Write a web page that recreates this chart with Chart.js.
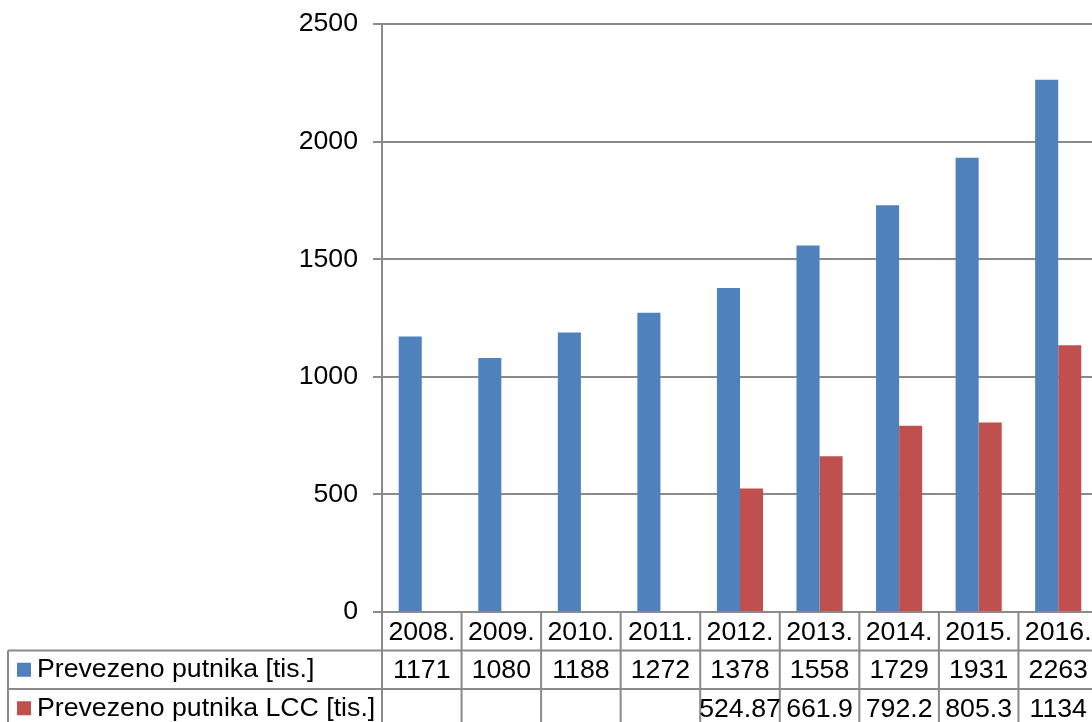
<!DOCTYPE html>
<html>
<head>
<meta charset="utf-8">
<script src="https://cdn.jsdelivr.net/npm/chart.js@4/dist/chart.umd.min.js"></script>
<style>
html, body { margin: 0; padding: 0; background: #fff; overflow: hidden; }
#wrap { position: absolute; left: 0; top: 0; width: 1100px; height: 740px; }
</style>
</head>
<body>
<div id="wrap"><canvas id="chart"></canvas></div>
<script>
// data
const years = ["2008.", "2009.", "2010.", "2011.", "2012.", "2013.", "2014.", "2015.", "2016."];
const passengers = [1171, 1080, 1188, 1272, 1378, 1558, 1729, 1931, 2263];
const passengersLcc = [null, null, null, null, 524.87, 661.9, 792.2, 805.3, 1134];
const yTicks = [0, 500, 1000, 1500, 2000, 2500];
const seriesNames = ["Prevezeno putnika [tis.]", "Prevezeno putnika LCC [tis.]"];
const seriesColors = ["#4F81BD", "#C0504D"];

const FONT = "Liberation Sans, Arial, sans-serif";
const FSIZE = 26.7;
const LINE = "#8a8a8a";

// Excel style data table under the plot
const dataTable = {
  id: 'dataTable',
  afterDraw(chart) {
    const ctx = chart.ctx;
    const xs = chart.scales.x;
    const area = chart.chartArea;
    const n = years.length;
    const w = (area.right - area.left) / n;
    const top = area.bottom;
    const rowH = 38.5;
    const rows = [top, top + rowH, top + 2 * rowH, top + 3 * rowH];
    const left = 8;
    const right = area.left + n * w;

    ctx.save();
    ctx.strokeStyle = LINE;
    ctx.lineWidth = 2;
    ctx.beginPath();
    // horizontal lines
    ctx.moveTo(left, rows[1]); ctx.lineTo(right, rows[1]);
    ctx.moveTo(left, rows[2]); ctx.lineTo(right, rows[2]);
    ctx.moveTo(left, rows[3]); ctx.lineTo(right, rows[3]);
    // outer left of legend column
    ctx.moveTo(left, rows[1]); ctx.lineTo(left, rows[3]);
    // category cell borders
    for (let i = 0; i <= n; i++) {
      const x = xs.getPixelForValue(i) - w / 2;
      ctx.moveTo(x, top); ctx.lineTo(x, rows[3]);
    }
    ctx.stroke();

    ctx.fillStyle = "#000";
    ctx.font = FSIZE + "px " + FONT;
    ctx.textAlign = "center";
    ctx.textBaseline = "middle";
    years.forEach((y, i) => {
      const cx = xs.getPixelForValue(i);
      ctx.fillText(y, cx, (rows[0] + rows[1]) / 2 + 1);
      ctx.fillText(String(passengers[i]), cx, (rows[1] + rows[2]) / 2 + 1);
      if (passengersLcc[i] !== null) ctx.fillText(String(passengersLcc[i]), cx, (rows[2] + rows[3]) / 2 + 1);
    });

    // legend keys
    ctx.textAlign = "left";
    [0, 1].forEach(k => {
      const cy = (rows[k + 1] + rows[k + 2]) / 2;
      ctx.fillStyle = seriesColors[k];
      ctx.fillRect(17, cy - 7, 14, 14);
      ctx.fillStyle = "#000";
      ctx.fillText(seriesNames[k], 37, cy);
    });
    ctx.restore();
  }
};

new Chart(document.getElementById("chart"), {
  type: 'bar',
  data: {
    labels: years,
    datasets: [
      { label: seriesNames[0], data: passengers, backgroundColor: seriesColors[0] },
      { label: seriesNames[1], data: passengersLcc, backgroundColor: seriesColors[1] }
    ]
  },
  options: {
    responsive: true,
    maintainAspectRatio: false,
    animation: false,
    layout: { padding: { top: 24, right: 2, bottom: 128, left: 0 } },
    datasets: { bar: { categoryPercentage: 0.58, barPercentage: 1.0 } },
    plugins: { legend: { display: false }, tooltip: { enabled: false } },
    scales: {
      x: { display: false },
      y: {
        min: 0, max: 2500,
        afterBuildTicks: s => { s.ticks = yTicks.map(v => ({ value: v })); },
        afterFit: s => { s.width = 382; s.paddingTop = 0; s.paddingBottom = 0; },
        grid: { color: LINE, lineWidth: 2, tickLength: 9 },
        border: { color: LINE, width: 2 },
        ticks: { color: "#000", padding: 15, font: { family: FONT, size: FSIZE }, callback: v => String(v) }
      }
    }
  },
  plugins: [dataTable]
});
</script>
</body>
</html>
